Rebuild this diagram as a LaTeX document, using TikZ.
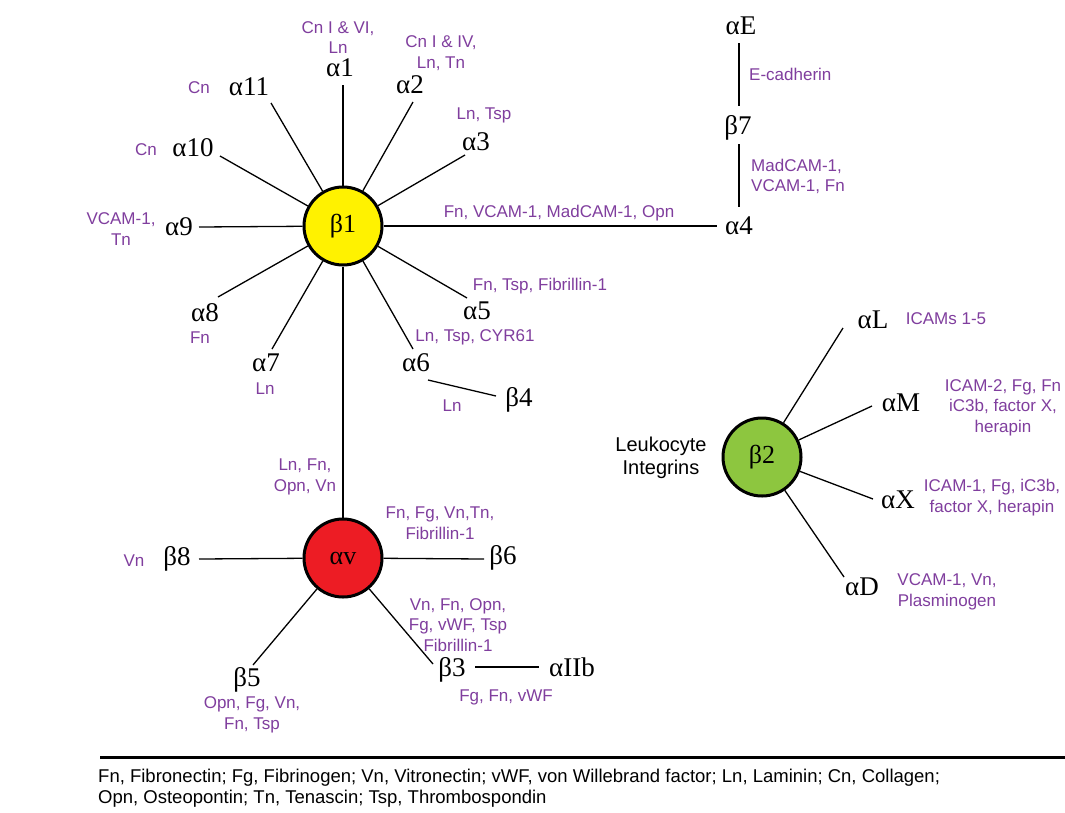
\documentclass[tikz,border=0pt]{standalone}
\usepackage{fontspec}
\setmainfont{Liberation Serif}
\newfontfamily\lblfont{Liberation Sans}
\newfontfamily\footfont{Liberation Sans}
\definecolor{lig}{RGB}{128,62,158}
\definecolor{cyel}{RGB}{255,242,0}
\definecolor{cred}{RGB}{237,28,36}
\definecolor{cgrn}{RGB}{141,198,63}
\begin{document}
\begin{tikzpicture}[x=1pt,y=-1pt,
  sub/.style={inner sep=0pt,font=\fontsize{27}{29}\selectfont},
  lig/.style={inner sep=0pt,align=center,text=lig,font=\lblfont\fontsize{17}{20.5}\selectfont},
  hub/.style={circle,draw,line width=3pt,minimum size=78pt,inner sep=0pt,font=\fontsize{26}{28}\selectfont},
  spoke/.style={line width=1.3pt}]
\path[use as bounding box,fill=white] (0,0) rectangle (1065,812);

% hubs
\node[hub,fill=cyel] (b1) at (343,226) {β1};
\node[hub,fill=cred] (av) at (343,558) {αv};
\node[hub,fill=cgrn] (b2) at (762,457) {β2};

% beta1 subunits
\node[sub] (a1) at (340,68) {α1};
\node[sub] (a2) at (410,85) {α2};
\node[sub] (a3) at (476,142) {α3};
\node[sub] (a4) at (739,226) {α4};
\node[sub] (a5) at (477,311) {α5};
\node[sub] (a6) at (416,363) {α6};
\node[sub] (a7) at (266,363) {α7};
\node[sub] (a8) at (205,313) {α8};
\node[sub] (a9) at (179,227) {α9};
\node[sub] (a10) at (193,148) {α10};
\node[sub] (a11) at (249,87) {α11};
\node[sub] (b4) at (519,400) {β4};
\node[sub] (aE) at (741,26) {αE};
\node[sub] (b7) at (738,128) {β7};

\coordinate (e1) at (343,85);
\coordinate (e2) at (413,102);
\coordinate (e3) at (465,155);
\coordinate (e4) at (717,226);
\coordinate (e5) at (467,298);
\coordinate (e6) at (413,349);
\coordinate (e7) at (272,349);
\coordinate (e8) at (218,297);
\coordinate (e9) at (199,227);
\coordinate (e10) at (220,156);
\coordinate (e11) at (271,103);
\foreach \i in {1,...,11} \draw[spoke] (b1) -- (e\i);
\coordinate (f6) at (428,380);
\coordinate (f4) at (496,396);
\draw[spoke] (f6) -- (f4);
\coordinate (gE) at (739,43);
\coordinate (g7a) at (739,106);
\coordinate (g7b) at (739,144);
\coordinate (g4) at (739,207);
\draw[spoke] (gE) -- (g7a);
\draw[spoke] (g7b) -- (g4);
\draw[spoke] (b1) -- (av);

% beta1 ligands
\node[lig] (l1) at (338,37.5) {Cn I \& VI,\\Ln};
\node[lig] (l2) at (441,53) {Cn I \& IV,\\Ln, Tn};
\node[lig] (l3) at (484,115) {Ln, Tsp};
\node[lig] (l11) at (199,88) {Cn};
\node[lig] (l10) at (146,150) {Cn};
\node[lig] (l9) at (121,229) {VCAM-1,\\Tn};
\node[lig] (l4) at (559,213) {Fn, VCAM-1, MadCAM-1, Opn};
\node[lig] (l5) at (540,286) {Fn, Tsp, Fibrillin-1};
\node[lig] (l6) at (475,337) {Ln, Tsp, CYR61};
\node[lig] (l8) at (200,338) {Fn};
\node[lig] (l7) at (265,389) {Ln};
\node[lig] (l64) at (452,406) {Ln};
\node[lig,anchor=west] (lE) at (749,74) {E-cadherin};
\node[lig,anchor=west,align=left] (l74) at (751,176.5) {MadCAM-1,\\VCAM-1, Fn};
\node[lig] (lv1) at (305,477) {Ln, Fn,\\Opn, Vn};

% alpha v
\node[sub] (b8) at (177,559) {β8};
\node[sub] (b6) at (503,558) {β6};
\node[sub] (b5) at (247,680) {β5};
\node[sub] (b3) at (452,670) {β3};
\node[sub] (aIIb) at (572,667) {αIIb};
\coordinate (h8) at (199,559);
\coordinate (h6) at (484,559);
\coordinate (h5) at (253,665);
\coordinate (h3) at (433,664);
\foreach \i in {8,6,5,3} \draw[spoke] (av) -- (h\i);
\coordinate (h3b) at (475,667);
\coordinate (hIIb) at (539,667);
\draw[spoke] (h3b) -- (hIIb);
\node[lig] (lv8) at (134,561) {Vn};
\node[lig] (lv6) at (440,523) {Fn, Fg, Vn,Tn,\\Fibrillin-1};
\node[lig] (lv3) at (458,625) {Vn, Fn, Opn,\\Fg, vWF, Tsp\\Fibrillin-1};
\node[lig] (lIIb) at (506,697) {Fg, Fn, vWF};
\node[lig] (lv5) at (252,715) {Opn, Fg, Vn,\\Fn, Tsp};

% beta2
\node[sub] (aL) at (873,320) {αL};
\node[sub] (aM) at (901,403) {αM};
\node[sub] (aX) at (898,500) {αX};
\node[sub] (aD) at (862,587) {αD};
\coordinate (kL) at (843,328);
\coordinate (kM) at (872,406);
\coordinate (kX) at (873,499);
\coordinate (kD) at (844,577);
\foreach \i in {L,M,X,D} \draw[spoke] (b2) -- (k\i);
\node[lig] (lL) at (946,319) {ICAMs 1-5};
\node[lig] (lM) at (1003,407.5) {ICAM-2, Fg, Fn\\iC3b, factor X,\\herapin};
\node[lig] (lX) at (992,497.5) {ICAM-1, Fg, iC3b,\\factor X, herapin};
\node[lig] (lD) at (947,592) {VCAM-1, Vn,\\Plasminogen};
\node[inner sep=0pt,align=center,font=\lblfont\fontsize{20}{23}\selectfont] (leuk) at (661,458) {Leukocyte\\Integrins};

% footer
\coordinate (r1) at (100,757);
\coordinate (r2) at (1065,757);
\draw[line width=3pt] (r1) -- (r2);
\node[anchor=west,inner sep=0pt,font=\footfont\fontsize{18.5}{20}\selectfont] (foot1) at (98,778) {Fn, Fibronectin; Fg, Fibrinogen; Vn, Vitronectin; vWF, von Willebrand factor; Ln, Laminin; Cn, Collagen;};
\node[anchor=west,inner sep=0pt,font=\footfont\fontsize{18.5}{20}\selectfont] (foot2) at (98,799) {Opn, Osteopontin; Tn, Tenascin; Tsp, Thrombospondin};
\end{tikzpicture}
\end{document}
